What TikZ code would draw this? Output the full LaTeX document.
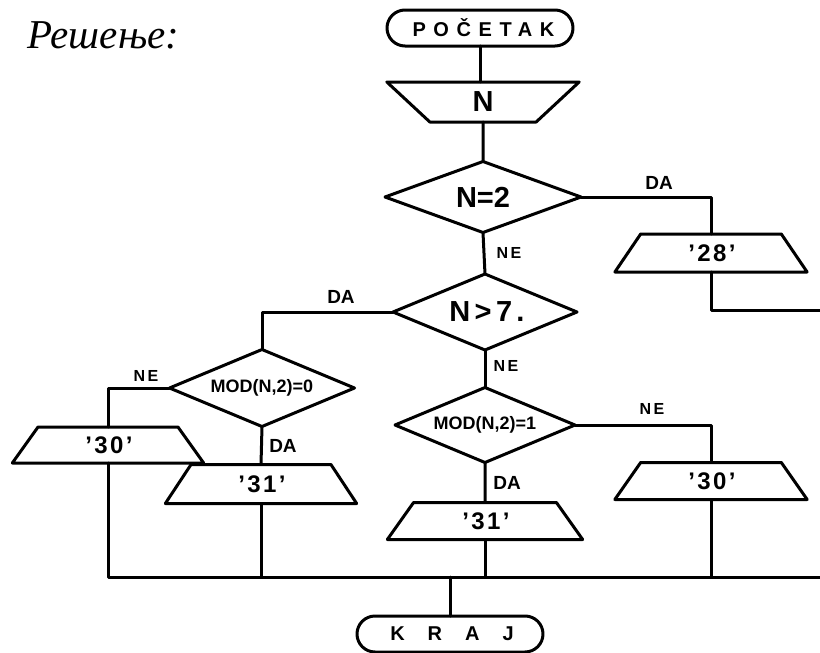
\documentclass[tikz,border=0pt]{standalone}
\usepackage{fontspec}
\setmainfont{Liberation Sans}
\newfontfamily\titlefont{Liberation Serif}
\usetikzlibrary{shapes.geometric}
\tikzset{
  ln/.style={line width=3pt, line cap=round, line join=round},
  term/.style={ln, draw, rectangle, rounded corners=18pt, minimum width=186pt, minimum height=36pt, inner sep=0pt, outer sep=0pt},
  dec/.style={ln, draw, diamond, aspect=2.5, inner sep=0pt, outer sep=0pt},
  io/.style={ln, draw, trapezium, trapezium stretches=true, trapezium left angle=62, trapezium right angle=62, inner sep=0pt, outer sep=0pt},
  lbl/.style={font=\fontsize{19}{21}\selectfont\bfseries, inner sep=0pt},
  lblne/.style={font=\fontsize{16}{18}\selectfont\bfseries\addfontfeature{LetterSpace=15}, inner sep=0pt},
  big/.style={font=\fontsize{29}{31}\selectfont\bfseries},
  bigsp/.style={font=\fontsize{29}{31}\selectfont\bfseries\addfontfeature{LetterSpace=15}},
  txt/.style={font=\fontsize{24}{26}\selectfont\bfseries\addfontfeature{LetterSpace=10}},
  modtxt/.style={font=\fontsize{18}{20}\selectfont\bfseries},
}
\begin{document}
\begin{tikzpicture}[x=1pt,y=-1pt]
\useasboundingbox (0,0) rectangle (820,653);
\node[anchor=base west, inner sep=0pt, font=\titlefont\itshape\fontsize{41}{43}\selectfont] (title) at (27,48) {Решење:};

\node[term, font=\fontsize{20}{22}\selectfont\bfseries\addfontfeature{LetterSpace=38}] (start) at (480,28) {\hspace{7pt}POČETAK};
\node[io, shape border rotate=180, trapezium left angle=67, trapezium right angle=67, minimum width=193pt, minimum height=40pt, big] (inN) at (483,102) {N};
\node[dec, minimum width=196pt, minimum height=71pt, big] (d1) at (483,197) {N=2};
\node[io, minimum width=193pt, minimum height=38pt, txt] (o28) at (711,253) {\hspace{2pt}'28'};
\node[dec, minimum width=184pt, minimum height=76pt, bigsp] (d2) at (485,312) {\hspace{4pt}N>7.};
\node[dec, minimum width=185pt, minimum height=77pt, modtxt] (m0) at (262,388) {MOD(N,2)=0};
\node[io, minimum width=192pt, minimum height=36pt, txt] (o30a) at (108,445) {\hspace{2pt}'30'};
\node[io, minimum width=192pt, minimum height=39pt, txt] (o31a) at (261,484) {\hspace{2pt}'31'};
\node[dec, minimum width=180pt, minimum height=75pt, modtxt] (m1) at (485,425) {MOD(N,2)=1};
\node[io, minimum width=193pt, minimum height=37pt, txt] (o30b) at (711,481) {\hspace{2pt}'30'};
\node[io, minimum width=196pt, minimum height=37pt, txt] (o31b) at (485,521) {\hspace{2pt}'31'};
\node[term, font=\fontsize{20}{22}\selectfont\bfseries\addfontfeature{LetterSpace=115}] (end) at (450,634) {\hspace{4pt}KRAJ};

\coordinate (r28) at (820,310);
\coordinate (busR) at (820,577);

\draw[ln] (start.south) -- (start.south |- inN.north);
\draw[ln] (inN.south) -- (d1.north);
\draw[ln] (d1.east) -| (o28.north);
\draw[ln] (o28.south) |- (r28);
\draw[ln] (d1.south) -- (d2.north);
\draw[ln] (d2.west) -| (m0.north);
\draw[ln] (m0.west) -| (o30a.north);
\draw[ln] (m0.south) -- (o31a.north);
\draw[ln] (d2.south) -- (m1.north);
\draw[ln] (m1.east) -| (o30b.north);
\draw[ln] (m1.south) -- (o31b.north);
\draw[ln] (o30a.south) |- (busR);
\draw[ln] (o31a.south) -- (o31a.south |- busR);
\draw[ln] (o31b.south) -- (o31b.south |- busR);
\draw[ln] (o30b.south) -- (o30b.south |- busR);
\draw[ln] (end.north |- busR) -- (end.north);

\node[lbl] (l1) at (659,183) {DA};
\node[lblne] (l2) at (509,253) {NE};
\node[lbl] (l3) at (341,297) {DA};
\node[lblne] (l4) at (146,376) {NE};
\node[lblne] (l5) at (506,366) {NE};
\node[lbl] (l6) at (283,446) {DA};
\node[lblne] (l7) at (652,409) {NE};
\node[lbl] (l8) at (507,483) {DA};
\end{tikzpicture}
\end{document}
